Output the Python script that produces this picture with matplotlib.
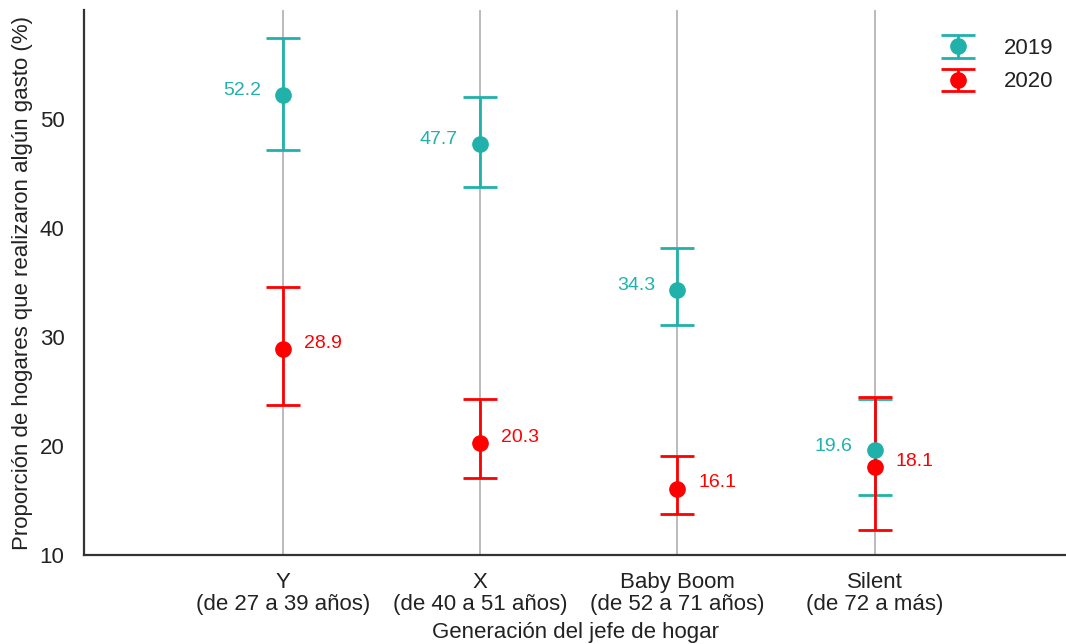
import matplotlib
matplotlib.use("Agg")
import matplotlib.pyplot as plt
import numpy as np

plt.rcParams['font.family'] = ['Liberation Sans', 'DejaVu Sans']
plt.rcParams['text.color'] = '#222222'

categories = ["Y\n(de 27 a 39 años)", "X\n(de 40 a 51 años)",
              "Baby Boom\n(de 52 a 71 años)", "Silent\n(de 72 a más)"]
v2019 = [52.2, 47.7, 34.3, 19.6]
lo2019 = [47.2, 43.8, 31.1, 15.5]
hi2019 = [57.4, 52.0, 38.2, 24.3]
v2020 = [28.9, 20.3, 16.1, 18.1]
lo2020 = [23.8, 17.1, 13.8, 12.3]
hi2020 = [34.6, 24.3, 19.1, 24.5]
yticks = [10, 20, 30, 40, 50]

c19 = "#20B2AA"
c20 = "#FF0000"

fig = plt.figure(figsize=(10.66, 6.44), dpi=100)
ax = fig.add_axes([84/1066, 1-555/644, 1-84/1066, (555-10)/644])

x = np.arange(len(categories))
for xi in x:
    ax.axvline(xi, color="#BBBBBB", lw=1.4, zorder=0)

def draw(vals, lo, hi, color, label):
    vals = np.array(vals); lo = np.array(lo); hi = np.array(hi)
    err = np.vstack([vals - lo, hi - vals])
    return ax.errorbar(x, vals, yerr=err, fmt="o", color=color, ecolor=color,
                       markersize=11, elinewidth=2, capsize=12, capthick=2,
                       label=label, zorder=3)

draw(v2019, lo2019, hi2019, c19, "2019")
draw(v2020, lo2020, hi2020, c20, "2020")

for xi, v in zip(x, v2019):
    ax.annotate(f"{v:.1f}", (xi, v), xytext=(-16, 3), textcoords="offset points",
                ha="right", va="center", color=c19, fontsize=14)
for xi, v in zip(x, v2020):
    ax.annotate(f"{v:.1f}", (xi, v), xytext=(15, 4), textcoords="offset points",
                ha="left", va="center", color=c20, fontsize=14)

ax.set_xlim(-1.009, 3.97)
ax.set_ylim(10, 60)
ax.set_yticks(yticks)
ax.set_xticks(x)
ax.set_xticklabels(categories, fontsize=16, color="#222222", linespacing=1.1)
ax.tick_params(axis="y", labelsize=16, length=0, pad=14, labelcolor="#222222")
ax.tick_params(axis="x", length=0, pad=12)
for s in ["top", "right"]:
    ax.spines[s].set_visible(False)
for s in ["left", "bottom"]:
    ax.spines[s].set_color("#333333")
    ax.spines[s].set_linewidth(1.6)

ax.set_xlabel("Generación del jefe de hogar", fontsize=16, labelpad=5, color="#222222")
ax.set_ylabel("Proporción de hogares que realizaron algún gasto (%)", fontsize=16,
              labelpad=5, color="#222222")

leg = ax.legend(loc="upper right", bbox_to_anchor=(1.008, 0.985), frameon=False,
                fontsize=16, handletextpad=1.2, labelspacing=0.55, handlelength=1.8)

fig.savefig("out.png", dpi=100)
